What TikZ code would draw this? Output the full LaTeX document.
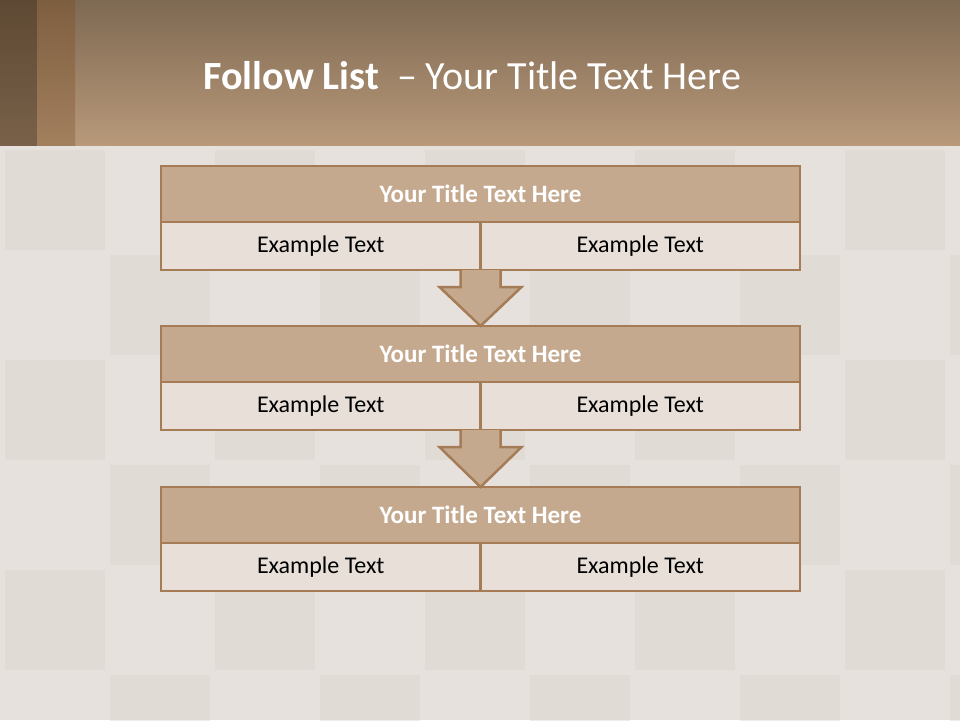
\documentclass[tikz,border=0pt]{standalone}
\usepackage{fontspec}
\setmainfont{Carlito}
\usetikzlibrary{calc, positioning}
\definecolor{headtop}{HTML}{7E6952}
\definecolor{headbot}{HTML}{B8997A}
\definecolor{stripdark}{HTML}{5E4934}
\definecolor{stripmid}{HTML}{946F4B}
\definecolor{tilebase}{HTML}{E6E1DC}
\definecolor{tilealt}{HTML}{DDD7D1}
\definecolor{barfill}{HTML}{C5A98F}
\definecolor{barline}{HTML}{A67C57}
\definecolor{cellfill}{HTML}{E8E0D8}
\tikzset{
  titlebar/.style={draw=barline, fill=barfill, line width=2.5pt, minimum width=639pt,
    minimum height=56pt, inner sep=0pt, outer sep=0pt, text=white,
    font=\fontsize{25}{29}\selectfont\bfseries},
  cellbox/.style={draw=barline, fill=cellfill, line width=2.5pt, minimum width=319.5pt,
    minimum height=48pt, inner sep=0pt, outer sep=0pt, text=black,
    font=\fontsize{24}{28}\selectfont},
  flowarrow/.style={draw=barline, fill=barfill, line width=2.5pt, line join=miter}
}

\begin{document}
\begin{tikzpicture}[x=1pt, y=-1pt]
    \useasboundingbox (0,0) rectangle (960,720);
    % background tiles
    \fill[tilebase] (0,145) rectangle (960,720);
    \foreach \tx in {0,2,4,6,8}
      \foreach \ty in {0,2,4} {
        \fill[tilealt, opacity=0.5] (\tx*105+5,150+\ty*105) rectangle (\tx*105+105,250+\ty*105);
        \fill[tilealt, opacity=0.5] (\tx*105+110,255+\ty*105) rectangle (\tx*105+210,355+\ty*105);
      }

    % header band
    \shade[top color=headtop, bottom color=headbot] (0,0) rectangle (960,145);
    \shade[top color=stripdark, bottom color=stripdark!70!headbot] (0,0) rectangle (37,145);
    \shade[top color=stripmid!85!black, bottom color=stripmid!60!headbot] (37,0) rectangle (75,145);
    \node[text=white, font=\fontsize{40}{46}\selectfont, anchor=west] (heading) at (200,76)
      {\textbf{Follow List}\ \ – Your Title Text Here};

    % three blocks
    \foreach \i/\y in {1/166, 2/326, 3/487} {
      \node[titlebar, anchor=north] (title\i) at (480.5,\y) {Your Title Text Here};
      \node[cellbox, anchor=north west] (left\i) at (title\i.south west) {Example Text};
      \node[cellbox, anchor=north east] (right\i) at (title\i.south east) {Example Text};
    }

    % connecting arrows
    \foreach \i/\j in {1/2, 2/3}
      \draw[flowarrow] ($(left\i.south east)+(-20,0)$) -- ++(0,17) -- ++(-21,0)
        -- (title\j.north) -- ($(left\i.south east)+(41,17)$) -- ++(-21,0)
        -- ($(left\i.south east)+(20,0)$);
  \end{tikzpicture}
\end{document}
